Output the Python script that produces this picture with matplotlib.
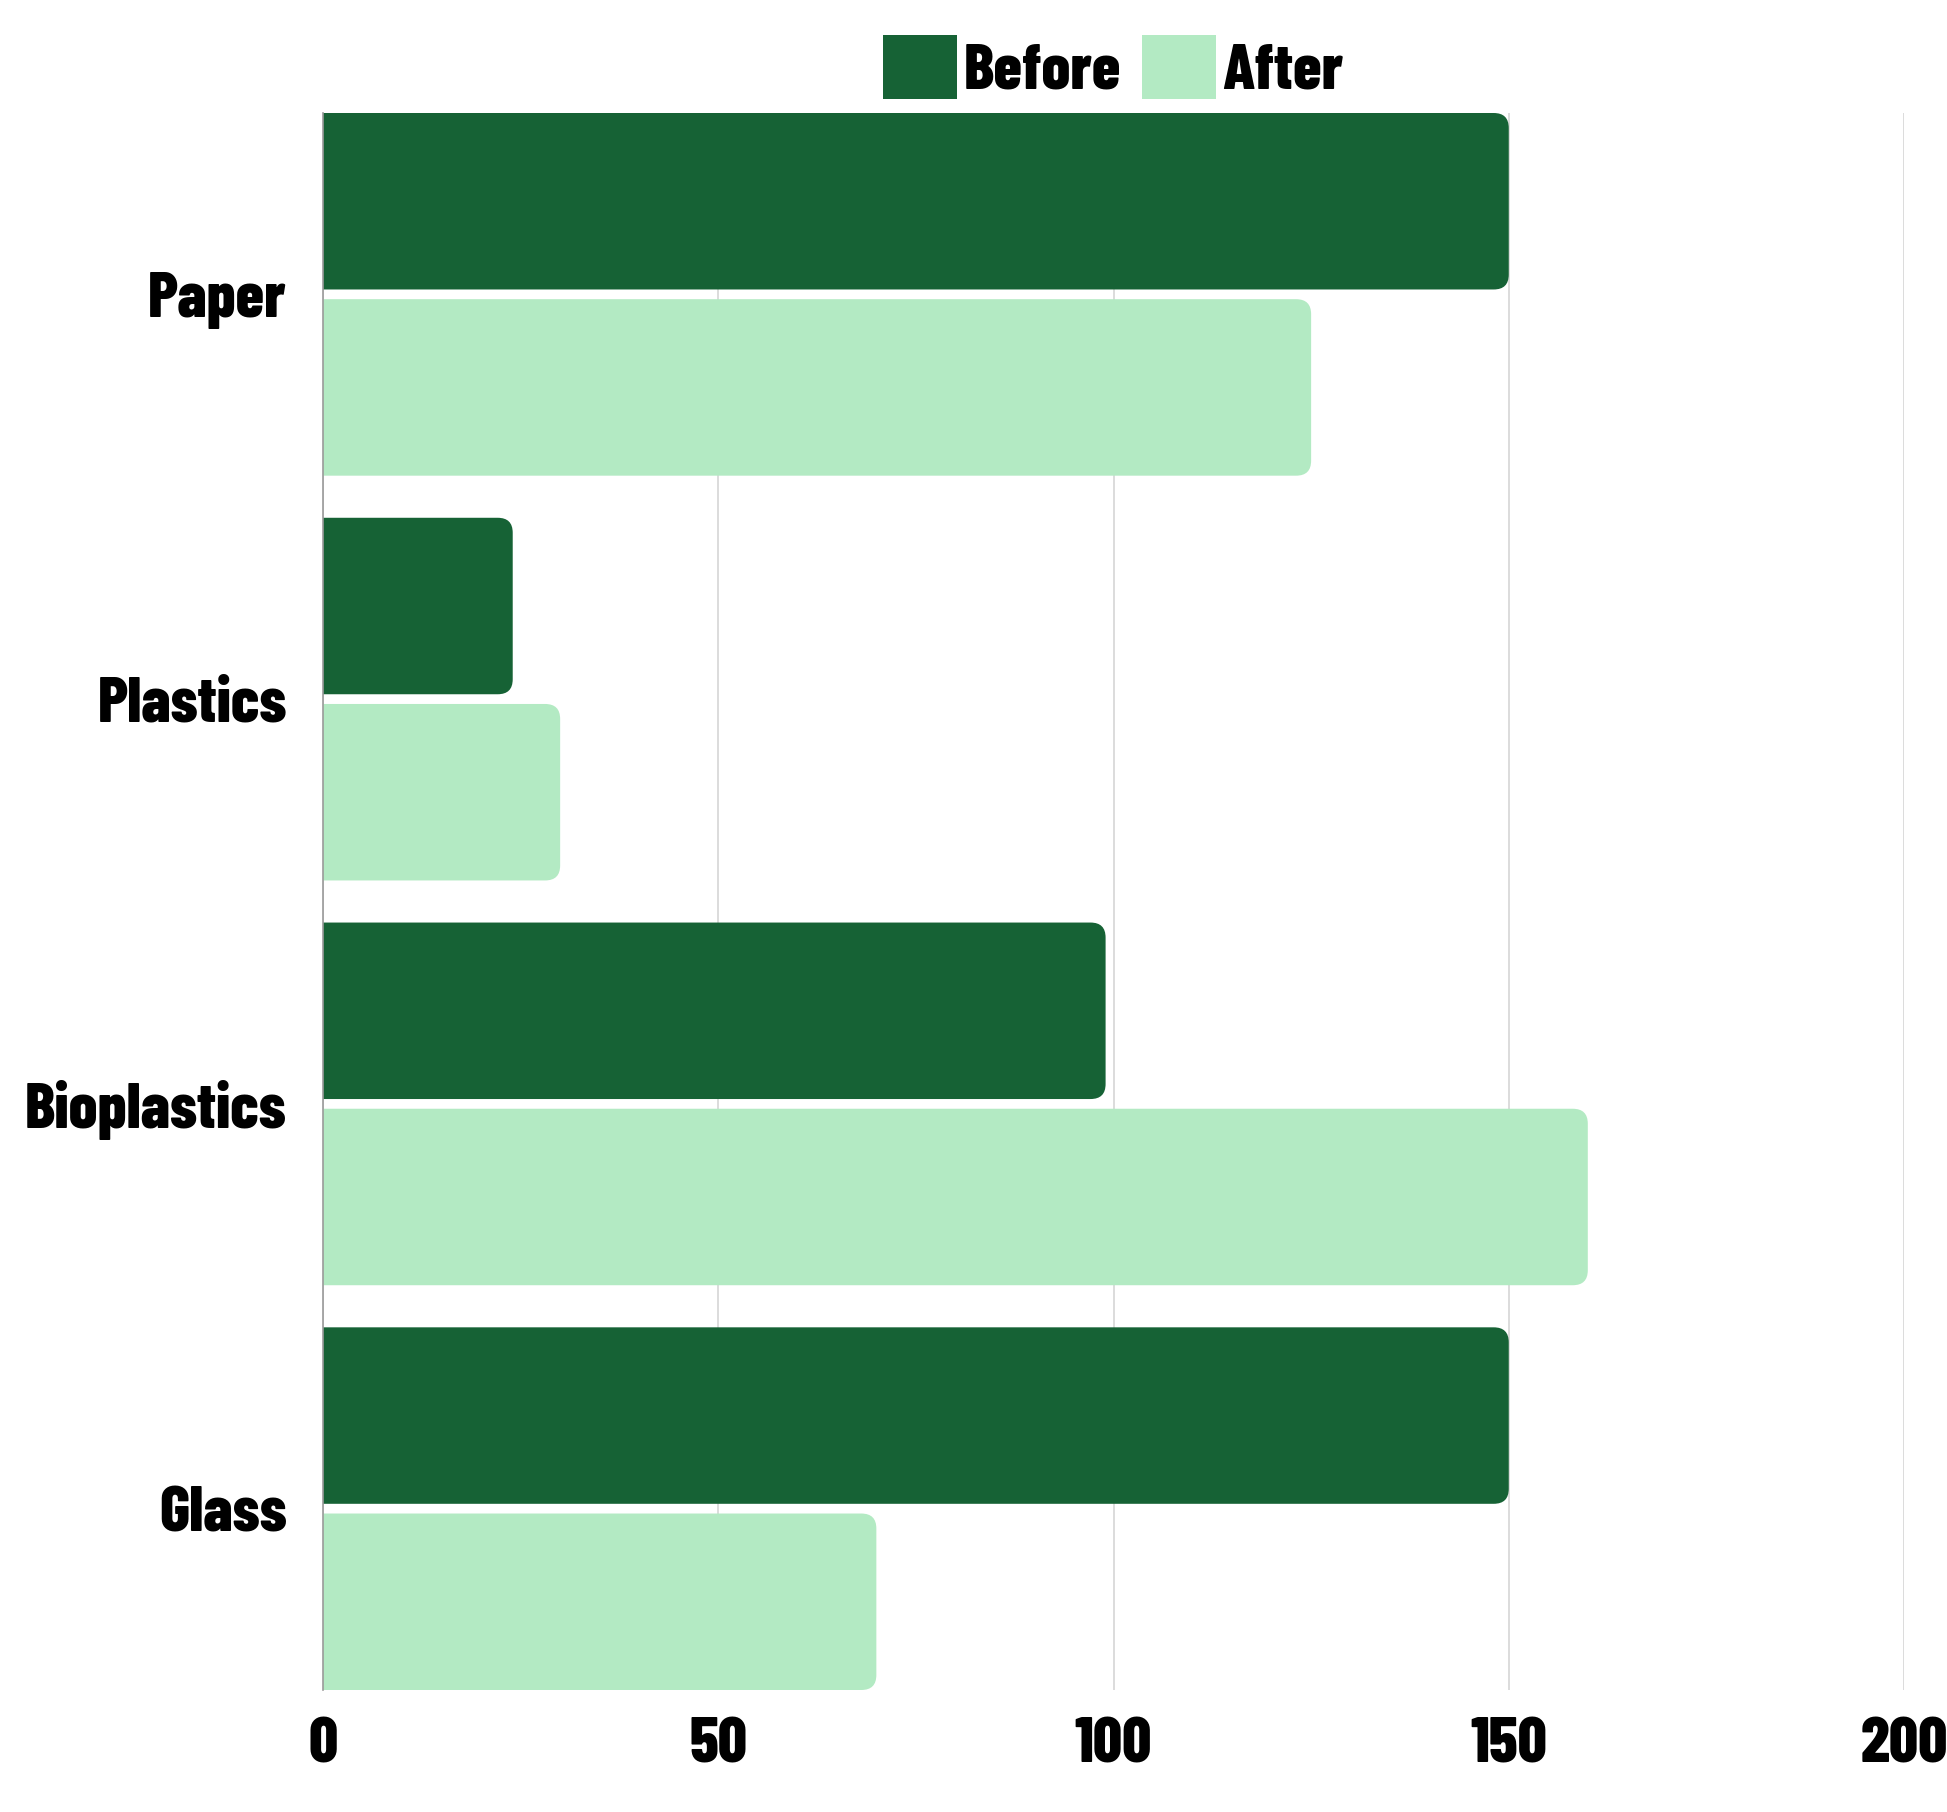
import numpy as np
import matplotlib
matplotlib.use("Agg")
import matplotlib.pyplot as plt
from matplotlib.patches import FancyBboxPatch, Patch

# data
categories = ["Paper", "Plastics", "Bioplastics", "Glass"]
before = [150, 24, 99, 150]
after = [125, 30, 160, 70]
x_ticks = [0, 50, 100, 150, 200]

DARK = "#166235"
LIGHT = "#b3eac3"

plt.rcParams["font.family"] = ["Barlow Condensed", "DejaVu Sans"]
plt.rcParams["font.weight"] = 800

fig = plt.figure(figsize=(19.47, 18.12), dpi=100)
ax = fig.add_axes([323 / 1947, 1 - 1690 / 1812, (1904 - 323) / 1947, (1690 - 113) / 1812])

y = np.arange(len(categories))
h = 0.436
off = 0.23
bars_b = ax.barh(y - off, before, height=h, color=DARK, zorder=3)
bars_a = ax.barh(y + off, after, height=h, color=LIGHT, zorder=3)

ax.set_xlim(0, 200)
ax.set_ylim(len(categories) - 1 + 0.448, -0.448)

# swap plain bars for ones rounded on the right end
# (left rounding pushed past x=0 so the axes clip hides it)
r_px = 15
x_per_px = 200 / 1581
y_per_px = (len(categories) - 1 + 0.896) / 1577
rx = r_px * x_per_px
aspect = y_per_px / x_per_px
for bars, col in [(bars_b, DARK), (bars_a, LIGHT)]:
    for b in bars:
        x0, y0 = b.get_x(), b.get_y()
        w, hh = b.get_width(), b.get_height()
        b.set_visible(False)
        ax.add_patch(FancyBboxPatch((x0 - 2 * rx, y0), w + 2 * rx, hh,
                                    boxstyle=f"round,pad=0,rounding_size={rx}",
                                    mutation_aspect=aspect, fc=col, ec="none", zorder=3))

ax.set_yticks(y)
ax.set_yticklabels(categories)
ax.set_xticks(x_ticks)
ax.tick_params(axis="both", length=0, labelsize=46)
ax.tick_params(axis="y", pad=26)
ax.tick_params(axis="x", pad=20)

ax.grid(axis="x", color="#d6d6d6", linewidth=1.2, zorder=0)
for s in ["top", "right", "bottom"]:
    ax.spines[s].set_visible(False)
ax.spines["left"].set_color("#9a9a9a")
ax.spines["left"].set_linewidth(1.2)
ax.spines["left"].set_zorder(4)

handles = [Patch(fc=DARK, ec="none"), Patch(fc=LIGHT, ec="none")]
ax.legend(handles, ["Before", "After"], loc="lower center", bbox_to_anchor=(0.5, 1.0),
          ncol=2, frameon=False, fontsize=46, handlelength=1.16, handleheight=1.16,
          handletextpad=0.1, columnspacing=0.33, borderaxespad=0.1, borderpad=0.1)

fig.savefig("out.png", dpi=100, facecolor="white")
